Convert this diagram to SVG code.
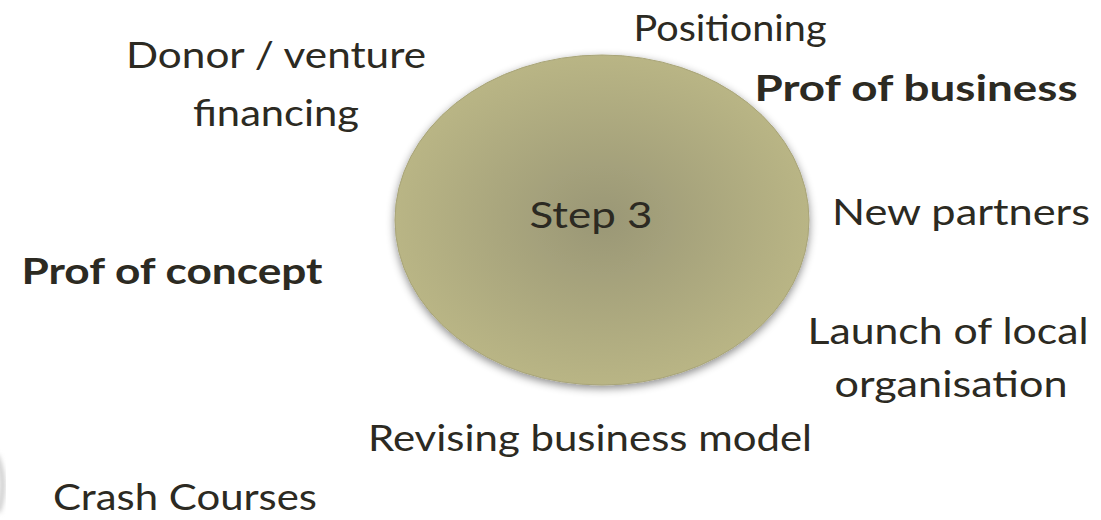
<svg xmlns="http://www.w3.org/2000/svg" width="1101" height="520" viewBox="0 0 1101 520">
<style>
  text { font-family: Lato, "Liberation Sans", sans-serif; fill: #2c2a22; font-size: 37px; }
  .b { font-weight: bold; }
</style>
<defs>
  <radialGradient id="g" cx="0.5" cy="0.5" r="0.5">
    <stop offset="0" stop-color="#9a9776"/>
    <stop offset="1" stop-color="#b9b585"/>
  </radialGradient>
  <filter id="sh" x="-10%" y="-10%" width="120%" height="125%">
    <feDropShadow dx="0" dy="3" stdDeviation="4" flood-color="#000" flood-opacity="0.45"/>
  </filter>
  <filter id="blur" x="-50%" y="-50%" width="200%" height="200%">
    <feGaussianBlur stdDeviation="2.5"/>
  </filter>
</defs>
<rect width="1101" height="520" fill="#fff"/>
<g id="edge-fragment">
  <path d="M-4,455 Q8,482 -2,512" fill="none" stroke="#bdbdbd" stroke-width="4" filter="url(#blur)"/>
</g>
<g id="step3">
  <ellipse cx="602" cy="220" rx="207" ry="165" fill="url(#g)" stroke="#a8a478" stroke-width="1" filter="url(#sh)"/>
  <text x="591" y="228" text-anchor="middle" textLength="123" lengthAdjust="spacingAndGlyphs">Step 3</text>
</g>
<g id="positioning"><text x="730" y="41" text-anchor="middle" textLength="193" lengthAdjust="spacingAndGlyphs">Positioning</text></g>
<g id="donor">
  <text x="276" y="68" text-anchor="middle" textLength="300" lengthAdjust="spacingAndGlyphs">Donor / venture</text>
  <text x="276" y="126" text-anchor="middle" textLength="166" lengthAdjust="spacingAndGlyphs">financing</text>
</g>
<g id="prof-business"><text class="b" x="916" y="101" text-anchor="middle" textLength="323" lengthAdjust="spacingAndGlyphs">Prof of business</text></g>
<g id="new-partners"><text x="961" y="225" text-anchor="middle" textLength="258" lengthAdjust="spacingAndGlyphs">New partners</text></g>
<g id="prof-concept"><text class="b" x="172" y="284" text-anchor="middle" textLength="301" lengthAdjust="spacingAndGlyphs">Prof of concept</text></g>
<g id="launch">
  <text x="948" y="344" text-anchor="middle" textLength="281" lengthAdjust="spacingAndGlyphs">Launch of local</text>
  <text x="951" y="397" text-anchor="middle" textLength="233" lengthAdjust="spacingAndGlyphs">organisation</text>
</g>
<g id="revising"><text x="590" y="451" text-anchor="middle" textLength="444" lengthAdjust="spacingAndGlyphs">Revising business model</text></g>
<g id="crash"><text x="185" y="510" text-anchor="middle" textLength="264" lengthAdjust="spacingAndGlyphs">Crash Courses</text></g>
<g id="connectors"/>
</svg>
